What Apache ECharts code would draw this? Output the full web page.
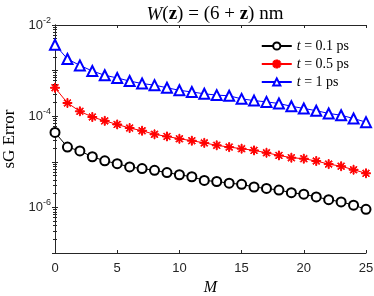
<!DOCTYPE html>
<html><head><meta charset="utf-8">
<script src="https://cdn.jsdelivr.net/npm/echarts@6/dist/echarts.min.js"></script>
<style>html,body{margin:0;padding:0;background:#fff}#c{width:374px;height:296px}</style>
</head><body><div id="c"></div>
<script>
var M = [0,1,2,3,4,5,6,7,8,9,10,11,12,13,14,15,16,17,18,19,20,21,22,23,24,25];
var err01 = [4.4e-5,2.1e-5,1.73e-5,1.29e-5,1.05e-5,9.1e-6,7.7e-6,7.1e-6,6.5e-6,5.8e-6,5.2e-6,4.7e-6,3.9e-6,3.7e-6,3.4e-6,3.2e-6,2.8e-6,2.6e-6,2.4e-6,2.1e-6,1.95e-6,1.7e-6,1.48e-6,1.32e-6,1.12e-6,9.1e-7];
var err05 = [4.2e-4,1.95e-4,1.28e-4,9.6e-5,7.9e-5,6.6e-5,5.5e-5,4.8e-5,4.0e-5,3.6e-5,3.2e-5,2.9e-5,2.6e-5,2.3e-5,2.1e-5,1.94e-5,1.78e-5,1.58e-5,1.38e-5,1.23e-5,1.17e-5,1.04e-5,8.9e-6,8.0e-6,6.7e-6,5.6e-6];
var err1 = [3.7e-3,1.8e-3,1.3e-3,9.8e-4,7.9e-4,6.9e-4,5.9e-4,5.2e-4,4.8e-4,4.2e-4,3.7e-4,3.4e-4,3.1e-4,2.9e-4,2.8e-4,2.4e-4,2.2e-4,2.06e-4,1.9e-4,1.65e-4,1.48e-4,1.32e-4,1.15e-4,1.05e-4,8.9e-5,7.4e-5];
var xTicks = [0,5,10,15,20,25];
var yTickExps = [-2,-4,-6];
var seriesNames = ['0.1','0.5','1'];

function pairs(ys){ return M.map(function(x,i){return [x, ys[i]];}); }
var star = 'path://M-10 -1.1L10 -1.1L10 1.1L-10 1.1Z M-1.1 -10L1.1 -10L1.1 10L-1.1 10Z M-7.85 -6.3L-6.3 -7.85L7.85 6.3L6.3 7.85Z M-6.3 7.85L-7.85 6.3L6.3 -7.85L7.85 -6.3Z';
var axCol = '#262626';
var chart = echarts.init(document.getElementById('c'), null, {renderer:'canvas'});
var serif = 'Liberation Serif';
var legendRich = {i:{fontFamily:serif,fontStyle:'italic',fontWeight:'normal',fontSize:14,color:'#000'}, r:{fontFamily:serif,fontWeight:'normal',fontSize:14,color:'#000'}};
function mkSeries(name, data, color, symbol, size){
  return {name:name, type:'line', data:pairs(data), symbol:symbol, symbolSize:size,
    lineStyle:{color:color,width:1}, itemStyle:{color:color, borderColor:color, borderWidth:1},
    showAllSymbol:true, animation:false};
}
var yLabelRich = {b:{fontFamily:'Liberation Sans',fontSize:13,color:axCol}, s:{fontFamily:'Liberation Sans',fontSize:9,color:axCol,verticalAlign:'bottom',padding:[0,0,9,0]}};
chart.setOption({
  backgroundColor:'#fff',
  animation:false,
  title:{text:'{i|W}{r|(}{b|z}{r|) = (6 + }{b|z}{r|) nm}', left:210, textAlign:'center', top:0,
    textStyle:{fontWeight:'normal', rich:{i:{fontFamily:serif,fontStyle:'italic',fontWeight:'normal',fontSize:19,color:'#000'}, r:{fontFamily:serif,fontWeight:'normal',fontSize:19,color:'#000'}, b:{fontFamily:serif,fontWeight:'bold',fontSize:19,color:'#000'}}}},
  grid:{left:55, right:8, top:25, bottom:43, containLabel:false, outerBoundsMode:'none'},
  legend:{right:20, top:34, orient:'vertical', itemWidth:30, itemHeight:9, itemGap:4,
    data:['a','b','c'],
    formatter:function(n){ var m={a:'0.1',b:'0.5',c:'1'}; return '{i|t}{r| = '+m[n]+' ps}'; },
    textStyle:{rich:legendRich}, backgroundColor:'#fff'},
  xAxis:[{type:'value', min:0, max:25, interval:5, position:'bottom',
    name:'M', nameLocation:'middle', nameGap:26,
    nameTextStyle:{fontFamily:serif,fontStyle:'italic',fontSize:16,color:'#000'},
    axisLine:{lineStyle:{color:axCol,width:1}}, axisTick:{inside:true,length:3,lineStyle:{color:axCol}},
    axisLabel:{fontFamily:'Liberation Sans',fontSize:13,color:axCol,margin:9},
    splitLine:{show:false}},
   {type:'value', min:0, max:25, interval:5, position:'top',
    axisLine:{lineStyle:{color:axCol,width:1}}, axisTick:{inside:true,length:3,lineStyle:{color:axCol}},
    axisLabel:{show:false}, splitLine:{show:false}}],
  yAxis:[{type:'log', logBase:10, min:1e-7, max:1e-2, interval:1, position:'left',
    name:'sG Error', nameLocation:'middle', nameGap:32,
    nameTextStyle:{fontFamily:serif,fontSize:17,color:'#000'},
    axisLine:{show:true,lineStyle:{color:axCol,width:1}}, axisTick:{inside:true,length:3,lineStyle:{color:axCol}},
    minorTick:{show:true,splitNumber:9,length:2,lineStyle:{color:axCol}},
    axisLabel:{margin:4, rich:yLabelRich, formatter:function(v){var e=Math.round(Math.log10(v)); return yTickExps.indexOf(e)>=0 ? '{b|10}{s|'+e+'}' : '';}},
    splitLine:{show:false}},
   {type:'log', logBase:10, min:1e-7, max:1e-2, interval:1, position:'right',
    axisLine:{show:true,lineStyle:{color:axCol,width:1}}, axisTick:{inside:true,length:3,lineStyle:{color:axCol}},
    minorTick:{show:true,splitNumber:9,length:2,lineStyle:{color:axCol}},
    axisLabel:{show:false}, splitLine:{show:false}}],
  series:[
    mkSeries('a', err01, '#000000', 'emptyCircle', 9),
    mkSeries('b', err05, '#ff0000', star, 9),
    mkSeries('c', err1, '#0000ff', 'emptyTriangle', 10)
  ]
});
</script></body></html>
